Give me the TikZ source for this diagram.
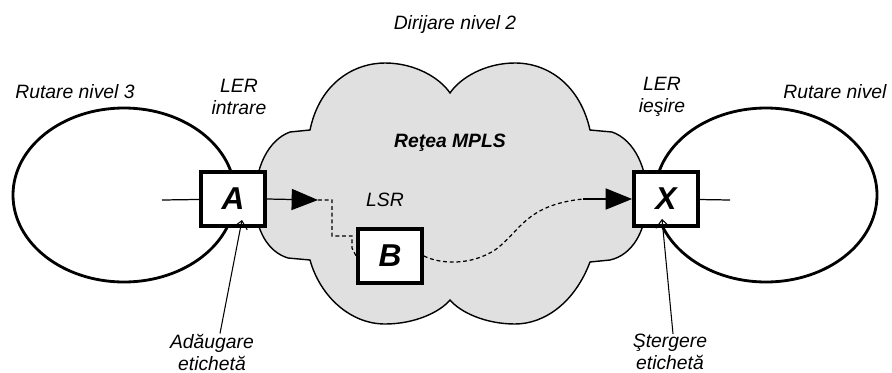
\documentclass[tikz,border=0pt]{standalone}
\usepackage{fontspec}
\setmainfont{Liberation Sans}
\usetikzlibrary{arrows.meta,calc}

\begin{document}
\begin{tikzpicture}[x=0.02cm,y=-0.02cm,
    router/.style={draw,line width=2.2pt,fill=white,minimum width=1.28cm,
      minimum height=1.08cm,inner sep=0pt,
      font=\fontsize{18}{20}\selectfont\bfseries\itshape},
    lbl/.style={font=\fontsize{11}{12.5}\selectfont\itshape,align=center,inner sep=0pt},
    lsp/.style={line width=0.7pt,dash pattern=on 2.2pt off 1.6pt},
    bigtip/.style={-{Triangle[length=15pt,width=12pt]}},
    smalltip/.style={line width=0.6pt,-{Straight Barb[length=4.5pt,width=8pt]}}]
  \useasboundingbox (0,0) rectangle (892,372);

  % domenii de rutare nivel 3
  \draw[line width=1.6pt] (124,195) ellipse [x radius=111, y radius=87];
  \draw[line width=1.6pt] (766,195) ellipse [x radius=111, y radius=87];

  % norul MPLS
  \draw[line width=0.8pt,fill=black!12]
    (310,130) .. controls (320,82) and (355,63) .. (385,63)
              .. controls (415,63) and (440,78) .. (450,93)
              .. controls (460,78) and (485,63) .. (515,63)
              .. controls (548,63) and (580,85) .. (590,130)
    -- (612,132) .. controls (635,140) and (648,170) .. (647,200)
                 .. controls (646,232) and (632,255) .. (610,260)
    -- (590,262) .. controls (575,302) and (545,324) .. (515,324)
                 .. controls (485,324) and (460,312) .. (450,300)
                 .. controls (440,312) and (415,324) .. (385,324)
                 .. controls (350,324) and (320,296) .. (310,260)
    -- (288,258) .. controls (268,252) and (255,230) .. (255,200)
                 .. controls (255,168) and (268,140) .. (290,132)
    -- cycle;

  \node[router] (A) at (233,199) {A};
  \node[router] (B) at (390,256) {B};
  \node[router] (X) at (666,199) {X};

  \node[lbl] (dir) at (455,25) {Dirijare nivel 2};
  \node[lbl] (rut1) at (75,92) {Rutare nivel 3};
  \node[lbl,anchor=west] (rut2) at (783,92) {Rutare nivel};
  \node[lbl] (lerin) at (239,97) {LER\\intrare};
  \node[lbl] (lerout) at (662,97) {LER\\ieşire};
  \node[lbl,font=\fontsize{11}{12.5}\selectfont\bfseries\itshape] (mpls) at (450,143) {Reţea MPLS};
  \node[lbl] (lsr) at (385,200) {LSR};
  \node[lbl] (add) at (212,352) {Adăugare\\etichetă};
  \node[lbl] (del) at (670,352) {Ştergere\\etichetă};

  % intrare / iesire din domeniile de nivel 3
  \coordinate (ain) at (162,200);
  \coordinate (xout) at (730,200);
  \draw[line width=0.7pt] (ain) -- (A);
  \draw[line width=0.7pt] (X) -- (xout);

  % calea comutata pe etichete
  \coordinate (p1) at (318,200);
  \coordinate (p2) at (583,199);
  \draw[line width=0.7pt,bigtip] (A.east) -- (p1);
  \draw[lsp] (p1) -- (332,200) -- (332,236) -- (352,236) -- (352,248) -- (B.west);
  \draw[lsp] (B.east) .. controls (440,264) and (470,266) .. (495,250)
                      .. controls (520,232) and (525,205) .. (583,199);
  \draw[line width=0.7pt,bigtip] (p2) -- (X.west);

  % adnotari
  \draw[smalltip] ($(add.north)+(8,0)$) -- ($(A.south)+(9,-8)$);
  \draw[smalltip] ($(del.north)+(3,0)$) -- ($(X.south)+(-4,-9)$);
\end{tikzpicture}
\end{document}
